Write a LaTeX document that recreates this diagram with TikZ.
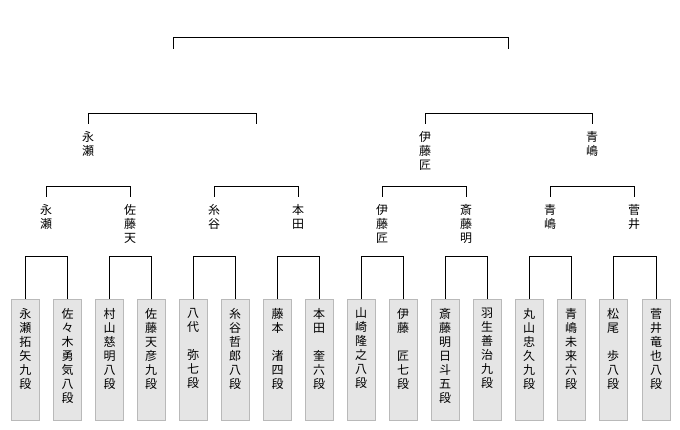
\documentclass[tikz,border=0pt]{standalone}
\usepackage{fontspec}
\setmainfont{Noto Sans CJK JP}
\begin{document}
\begin{tikzpicture}[x=1pt,y=-1pt,
  pbox/.style={rectangle, draw=gray!55, fill=gray!20, minimum width=28pt, minimum height=121pt, inner sep=0pt},
  vname/.style={anchor=north, align=center, inner sep=0pt, font=\fontsize{12}{14}\selectfont}]
\useasboundingbox (0,0) rectangle (680,430);
% 一回戦
\foreach \i/\x/\t in {1/25.5/永\\瀬\\拓\\矢\\九\\段, 2/67.5/佐\\々\\木\\勇\\気\\八\\段,
  3/109.5/村\\山\\慈\\明\\八\\段, 4/151/佐\\藤\\天\\彦\\九\\段,
  5/193/八\\代\\　\\弥\\七\\段, 6/235/糸\\谷\\哲\\郎\\八\\段,
  7/277.5/藤\\本\\　\\渚\\四\\段, 8/319/本\\田\\　\\奎\\六\\段,
  9/361/山\\崎\\隆\\之\\八\\段, 10/403/伊\\藤\\　\\匠\\七\\段,
  11/445/斎\\藤\\明\\日\\斗\\五\\段, 12/487/羽\\生\\善\\治\\九\\段,
  13/529/丸\\山\\忠\\久\\九\\段, 14/571/青\\嶋\\未\\来\\六\\段,
  15/613/松\\尾\\　\\歩\\八\\段, 16/656/菅\\井\\竜\\也\\八\\段}{
  \node[pbox] (p\i) at (\x,359.5) {};
  \node[vname] at ([yshift=-9pt]p\i.north) {\t};
}

% 二回戦
\node[vname] (r1) at (46,204) {永\\瀬};
\node[vname] (r2) at (130,204) {佐\\藤\\天};
\node[vname] (r3) at (214,204) {糸\\谷};
\node[vname] (r4) at (298,204) {本\\田};
\node[vname] (r5) at (382,204) {伊\\藤\\匠};
\node[vname] (r6) at (466,204) {斎\\藤\\明};
\node[vname] (r7) at (550,204) {青\\嶋};
\node[vname] (r8) at (634,204) {菅\\井};

% 準決勝
\node[vname] (s1) at (88,131) {永\\瀬};
\coordinate (s2) at (256.5,131);
\node[vname] (s3) at (425,131) {伊\\藤\\匠};
\node[vname] (s4) at (592,131) {青\\嶋};

% 決勝
\coordinate (f1) at (173,49);
\coordinate (f2) at (508,49);

% 線
\foreach \a/\b in {1/2, 3/4, 5/6, 7/8, 9/10, 11/12, 13/14, 15/16}
  \draw[semithick] (p\a.north) -- ++(0,-42) -| (p\b.north);
\foreach \a/\b in {1/2, 3/4, 5/6, 7/8}
  \draw[semithick] ([yshift=7pt]r\a.north) -- ++(0,-11) -| ([yshift=7pt]r\b.north);
\draw[semithick] ([yshift=7pt]s1.north) -- ++(0,-11) -| ([yshift=7pt]s2);
\draw[semithick] ([yshift=7pt]s3.north) -- ++(0,-11) -| ([yshift=7pt]s4.north);
\draw[semithick] (f1) -- ++(0,-12) -| (f2);
\end{tikzpicture}
\end{document}
